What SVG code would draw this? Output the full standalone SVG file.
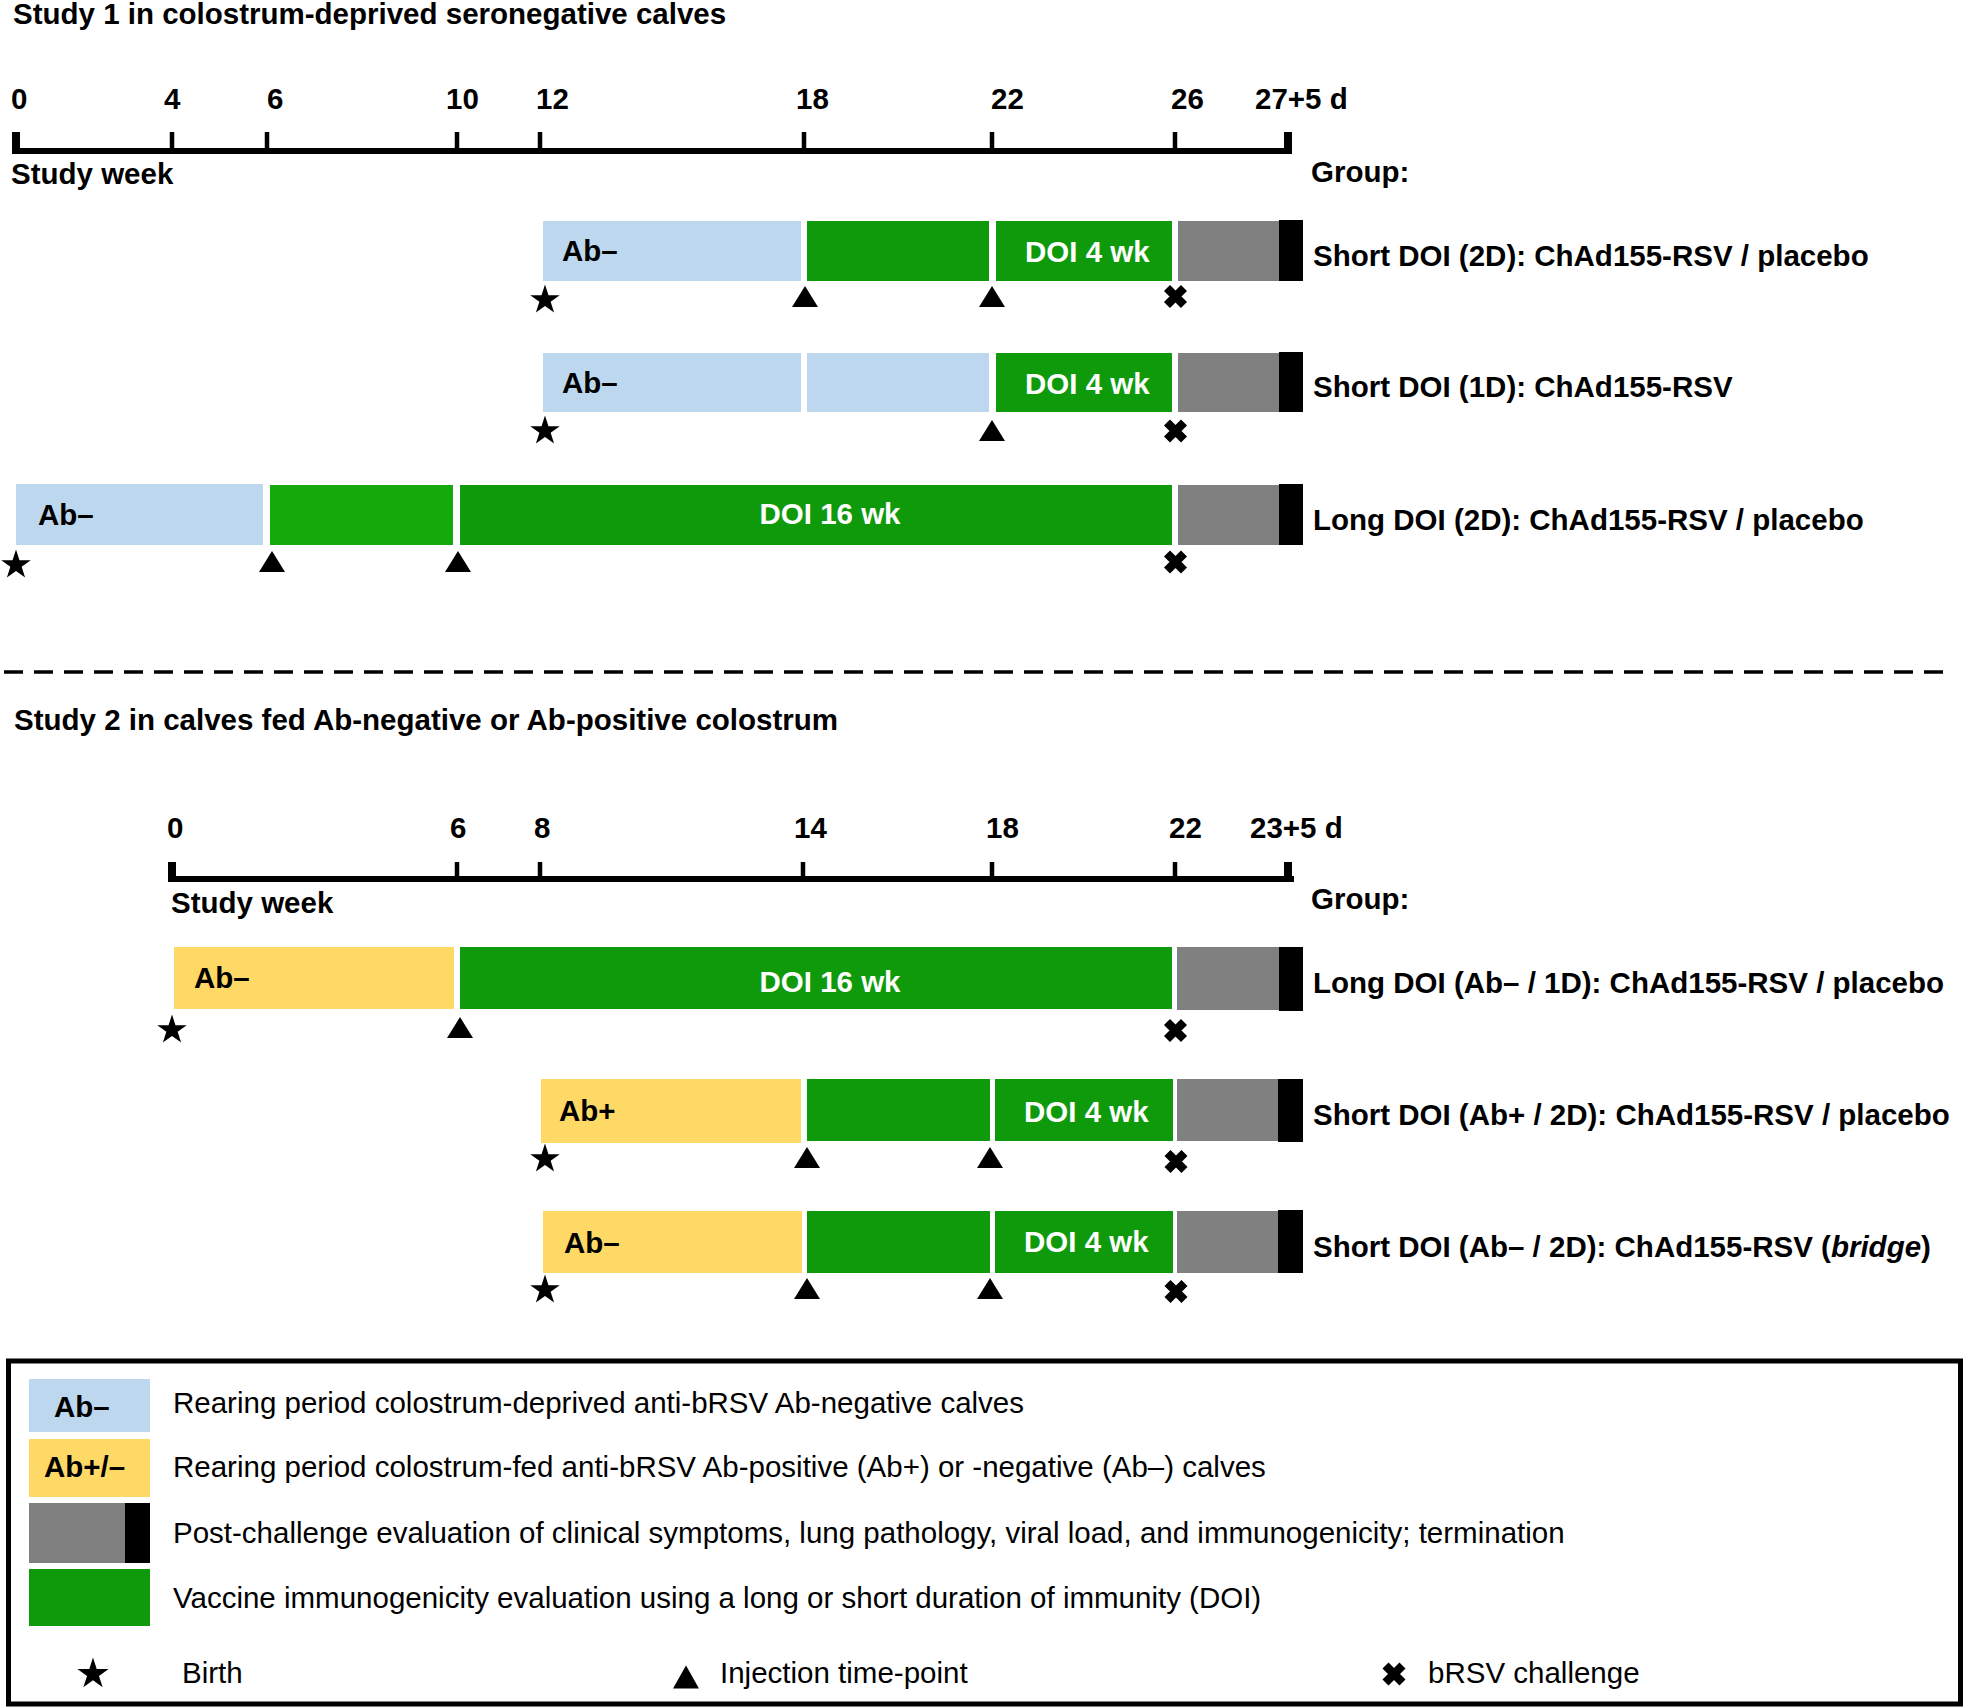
<svg xmlns="http://www.w3.org/2000/svg" xmlns:xlink="http://www.w3.org/1999/xlink" width="1966" height="1707" viewBox="0 0 1966 1707">
<style>
.t{font-family:"Liberation Sans",Arial,Helvetica,sans-serif;font-size:29.5px;font-weight:bold;fill:#000}
.r{font-weight:normal}
.w{fill:#fff}
.ab{fill:#bdd7ee}
.yl{fill:#fed966}
.g{fill:#0f9a0b}
.g2{fill:#15aa0b}
.gr{fill:#808080}
.bk{fill:#000}
.ax{stroke:#000;stroke-width:6;fill:none}
.tk{stroke:#000;stroke-width:4.5;fill:none}
.tkb{stroke:#000;stroke-width:8;fill:none}
</style>
<defs>
<path id="star" d="M0,-15.5 L3.48,-4.79 L14.74,-4.79 L5.63,1.83 L9.11,12.54 L0,5.92 L-9.11,12.54 L-5.63,1.83 L-14.74,-4.79 L-3.48,-4.79 Z" fill="#000"/>
<path id="tri" d="M0,-10.5 L13,10.5 L-13,10.5 Z" fill="#000"/>
<path id="xm" d="M-8.5,-8.5 L8.5,8.5 M8.5,-8.5 L-8.5,8.5" stroke="#000" stroke-width="8.5" fill="none"/>
</defs>
<rect width="1966" height="1707" fill="#fff"/>

<!-- Study 1 -->
<text class="t" x="13" y="24">Study 1 in colostrum-deprived seronegative calves</text>
<g id="axis1">
<line class="ax" x1="12" y1="151" x2="1292" y2="151"/>
<line class="tkb" x1="16" y1="132" x2="16" y2="154"/>
<line class="tk" x1="172" y1="132" x2="172" y2="154"/>
<line class="tk" x1="267" y1="132" x2="267" y2="154"/>
<line class="tk" x1="457" y1="132" x2="457" y2="154"/>
<line class="tk" x1="540" y1="132" x2="540" y2="154"/>
<line class="tk" x1="804" y1="132" x2="804" y2="154"/>
<line class="tk" x1="992" y1="132" x2="992" y2="154"/>
<line class="tk" x1="1175" y1="132" x2="1175" y2="154"/>
<line class="tkb" x1="1288" y1="132" x2="1288" y2="154"/>
<text class="t" x="11" y="109">0</text>
<text class="t" x="164" y="109">4</text>
<text class="t" x="267" y="109">6</text>
<text class="t" x="446" y="109">10</text>
<text class="t" x="536" y="109">12</text>
<text class="t" x="796" y="109">18</text>
<text class="t" x="991" y="109">22</text>
<text class="t" x="1171" y="109">26</text>
<text class="t" x="1255" y="109">27+5 d</text>
<text class="t" x="11" y="184">Study week</text>
<text class="t" x="1311" y="182">Group:</text>
</g>

<g id="s1-row1">
<rect class="ab" x="543" y="221" width="258" height="60"/>
<rect class="g" x="807" y="221" width="182" height="60"/>
<rect class="g" x="996" y="221" width="176" height="60"/>
<rect class="gr" x="1178" y="221" width="101" height="60"/>
<rect class="bk" x="1279" y="220" width="24" height="61"/>
<text class="t" x="562" y="261">Ab–</text>
<text class="t w" x="1025" y="262">DOI 4 wk</text>
<text class="t" x="1313" y="266">Short DOI (2D): ChAd155-RSV / placebo</text>
<use xlink:href="#star" x="545" y="300"/>
<use xlink:href="#tri" x="805" y="296.5"/>
<use xlink:href="#tri" x="992" y="296.5"/>
<use xlink:href="#xm" x="1175.5" y="296.5"/>
</g>

<g id="s1-row2">
<rect class="ab" x="543" y="353" width="258" height="59"/>
<rect class="ab" x="807" y="353" width="182" height="59"/>
<rect class="g" x="996" y="353" width="176" height="59"/>
<rect class="gr" x="1178" y="353" width="101" height="59"/>
<rect class="bk" x="1279" y="352" width="24" height="60"/>
<text class="t" x="562" y="393">Ab–</text>
<text class="t w" x="1025" y="394">DOI 4 wk</text>
<text class="t" x="1313" y="397">Short DOI (1D): ChAd155-RSV</text>
<use xlink:href="#star" x="545" y="431"/>
<use xlink:href="#tri" x="992" y="430.5"/>
<use xlink:href="#xm" x="1175.5" y="431"/>
</g>

<g id="s1-row3">
<rect class="ab" x="16" y="484" width="247" height="61"/>
<rect class="g2" x="270" y="485" width="183" height="60"/>
<rect class="g" x="460" y="485" width="712" height="60"/>
<rect class="gr" x="1178" y="485" width="101" height="60"/>
<rect class="bk" x="1279" y="484" width="24" height="61"/>
<text class="t" x="38" y="525">Ab–</text>
<text class="t w" x="830" y="524" text-anchor="middle">DOI 16 wk</text>
<text class="t" x="1313" y="530">Long DOI (2D): ChAd155-RSV / placebo</text>
<use xlink:href="#star" x="16" y="565"/>
<use xlink:href="#tri" x="272" y="561.5"/>
<use xlink:href="#tri" x="458" y="561.5"/>
<use xlink:href="#xm" x="1175.5" y="562"/>
</g>

<line id="divider" x1="4" y1="672" x2="1945" y2="672" stroke="#000" stroke-width="3.5" stroke-dasharray="19,11"/>

<!-- Study 2 -->
<text class="t" x="14" y="730">Study 2 in calves fed Ab-negative or Ab-positive colostrum</text>
<g id="axis2">
<line class="ax" x1="168" y1="879" x2="1294" y2="879"/>
<line class="tkb" x1="172" y1="862" x2="172" y2="882"/>
<line class="tk" x1="457" y1="862" x2="457" y2="882"/>
<line class="tk" x1="540" y1="862" x2="540" y2="882"/>
<line class="tk" x1="803" y1="862" x2="803" y2="882"/>
<line class="tk" x1="992" y1="862" x2="992" y2="882"/>
<line class="tk" x1="1175" y1="862" x2="1175" y2="882"/>
<line class="tkb" x1="1288" y1="862" x2="1288" y2="882"/>
<text class="t" x="167" y="838">0</text>
<text class="t" x="450" y="838">6</text>
<text class="t" x="534" y="838">8</text>
<text class="t" x="794" y="838">14</text>
<text class="t" x="986" y="838">18</text>
<text class="t" x="1169" y="838">22</text>
<text class="t" x="1250" y="838">23+5 d</text>
<text class="t" x="171" y="913">Study week</text>
<text class="t" x="1311" y="909">Group:</text>
</g>

<g id="s2-rowA">
<rect class="yl" x="174" y="947" width="280" height="62"/>
<rect class="g" x="460" y="947" width="712" height="62"/>
<rect class="gr" x="1177" y="947" width="102" height="63"/>
<rect class="bk" x="1279" y="947" width="24" height="64"/>
<text class="t" x="194" y="988">Ab–</text>
<text class="t w" x="830" y="992" text-anchor="middle">DOI 16 wk</text>
<text class="t" x="1313" y="993">Long DOI (Ab– / 1D): ChAd155-RSV / placebo</text>
<use xlink:href="#star" x="172" y="1030"/>
<use xlink:href="#tri" x="460" y="1027.5"/>
<use xlink:href="#xm" x="1175.5" y="1030.5"/>
</g>

<g id="s2-rowB">
<rect class="yl" x="541" y="1079" width="260" height="64"/>
<rect class="g" x="807" y="1079" width="183" height="62"/>
<rect class="g" x="995" y="1079" width="178" height="62"/>
<rect class="gr" x="1177" y="1079" width="101" height="62"/>
<rect class="bk" x="1278" y="1079" width="25" height="63"/>
<text class="t" x="559" y="1121">Ab+</text>
<text class="t w" x="1024" y="1122">DOI 4 wk</text>
<text class="t" x="1313" y="1125">Short DOI (Ab+ / 2D): ChAd155-RSV / placebo</text>
<use xlink:href="#star" x="545" y="1159"/>
<use xlink:href="#tri" x="807" y="1157.5"/>
<use xlink:href="#tri" x="990" y="1157.5"/>
<use xlink:href="#xm" x="1176" y="1161.5"/>
</g>

<g id="s2-rowC">
<rect class="yl" x="543" y="1211" width="259" height="62"/>
<rect class="g" x="807" y="1211" width="183" height="62"/>
<rect class="g" x="995" y="1211" width="178" height="62"/>
<rect class="gr" x="1177" y="1211" width="101" height="62"/>
<rect class="bk" x="1278" y="1210" width="25" height="63"/>
<text class="t" x="564" y="1253">Ab–</text>
<text class="t w" x="1024" y="1252">DOI 4 wk</text>
<text class="t" x="1313" y="1257">Short DOI (Ab– / 2D): ChAd155-RSV (<tspan font-style="italic">bridge</tspan>)</text>
<use xlink:href="#star" x="545" y="1290"/>
<use xlink:href="#tri" x="807" y="1288.5"/>
<use xlink:href="#tri" x="990" y="1288.5"/>
<use xlink:href="#xm" x="1176" y="1291.5"/>
</g>

<!-- Legend -->
<g id="legend">
<rect x="8.5" y="1361" width="1952" height="343" fill="none" stroke="#000" stroke-width="5"/>
<rect class="ab" x="29" y="1379" width="121" height="53"/>
<text class="t" x="54" y="1417">Ab–</text>
<text class="t r" x="173" y="1413">Rearing period colostrum-deprived anti-bRSV Ab-negative calves</text>
<rect class="yl" x="29" y="1439" width="121" height="58"/>
<text class="t" x="44" y="1477">Ab+/–</text>
<text class="t r" x="173" y="1477">Rearing period colostrum-fed anti-bRSV Ab-positive (Ab+) or -negative (Ab–) calves</text>
<rect class="gr" x="29" y="1503" width="96" height="60"/>
<rect class="bk" x="125" y="1503" width="25" height="60"/>
<text class="t r" x="173" y="1543">Post-challenge evaluation of clinical symptoms, lung pathology, viral load, and immunogenicity; termination</text>
<rect class="g" x="29" y="1569" width="121" height="57"/>
<text class="t r" x="173" y="1608">Vaccine immunogenicity evaluation using a long or short duration of immunity (DOI)</text>
<use xlink:href="#star" transform="translate(93,1674) scale(1.06)"/>
<text class="t r" x="182" y="1683">Birth</text>
<use xlink:href="#tri" transform="translate(686,1677) scale(1,1.1)"/>
<text class="t r" x="720" y="1683">Injection time-point</text>
<use xlink:href="#xm" x="1394" y="1674"/>
<text class="t r" x="1428" y="1683">bRSV challenge</text>
</g>
</svg>
